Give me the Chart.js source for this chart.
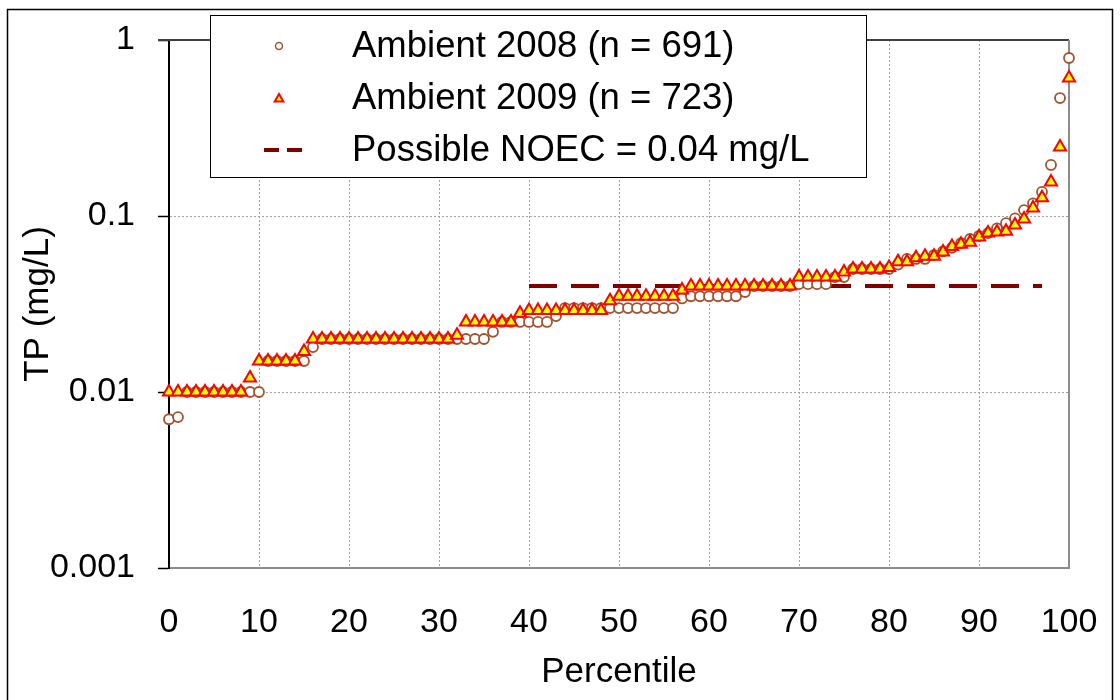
<!DOCTYPE html>
<html>
<head>
<meta charset="utf-8">
<script src="https://cdn.jsdelivr.net/npm/chart.js@4.4.1/dist/chart.umd.min.js"></script>
<style>
  body { margin: 0; background: #fff; }
  #wrap { width: 1120px; height: 700px; }
</style>
</head>
<body>
<div id="wrap"><canvas id="tpChart" width="1120" height="700"></canvas></div>
<script>
// percentile grid (x) and TP values (mg/L)
var percentiles = Array.from({ length: 101 }, function (_, i) { return i; });

var ambient2008 = [
  0.007, 0.0072, 0.01, 0.01, 0.01, 0.01, 0.01, 0.01, 0.01, 0.01,
  0.01, 0.015, 0.015, 0.015, 0.015, 0.015, 0.018, 0.02, 0.02, 0.02,
  0.02, 0.02, 0.02, 0.02, 0.02, 0.02, 0.02, 0.02, 0.02, 0.02,
  0.02, 0.02, 0.02, 0.02, 0.02, 0.02, 0.022, 0.025, 0.025, 0.025,
  0.025, 0.025, 0.025, 0.027, 0.03, 0.03, 0.03, 0.03, 0.03, 0.03,
  0.03, 0.03, 0.03, 0.03, 0.03, 0.03, 0.03, 0.034, 0.035, 0.035,
  0.035, 0.035, 0.035, 0.035, 0.037, 0.04, 0.04, 0.04, 0.04, 0.04,
  0.041, 0.041, 0.041, 0.041, 0.045, 0.045, 0.05, 0.05, 0.05, 0.05,
  0.05, 0.053, 0.057, 0.057, 0.057, 0.06, 0.063, 0.066, 0.07, 0.074,
  0.077, 0.08, 0.085, 0.091, 0.097, 0.108, 0.118, 0.137, 0.195, 0.468,
  0.79
];

var ambient2009 = [
  0.01, 0.01, 0.01, 0.01, 0.01, 0.01, 0.01, 0.01, 0.01, 0.012,
  0.015, 0.015, 0.015, 0.015, 0.015, 0.017, 0.02, 0.02, 0.02, 0.02,
  0.02, 0.02, 0.02, 0.02, 0.02, 0.02, 0.02, 0.02, 0.02, 0.02,
  0.02, 0.02, 0.021, 0.025, 0.025, 0.025, 0.025, 0.025, 0.025, 0.028,
  0.029, 0.029, 0.029, 0.029, 0.029, 0.029, 0.029, 0.029, 0.029, 0.033,
  0.035, 0.035, 0.035, 0.035, 0.035, 0.035, 0.035, 0.038, 0.04, 0.04,
  0.04, 0.04, 0.04, 0.04, 0.04, 0.04, 0.04, 0.04, 0.04, 0.04,
  0.045, 0.045, 0.045, 0.045, 0.045, 0.048, 0.05, 0.05, 0.05, 0.05,
  0.051, 0.055, 0.055, 0.058, 0.059, 0.059, 0.0625, 0.067, 0.069, 0.071,
  0.076, 0.08, 0.081, 0.082, 0.089, 0.096, 0.111, 0.127, 0.156, 0.247,
  0.608
];

var noecRange = [40, 97];
var noecValue = 0.04;

var xTicks = [0, 10, 20, 30, 40, 50, 60, 70, 80, 90, 100];
var yTicks = [0.001, 0.01, 0.1, 1];

var legendLabels = ['Ambient 2008 (n = 691)', 'Ambient 2009 (n = 723)', 'Possible NOEC = 0.04 mg/L'];

var FONT = '"Liberation Sans", Arial, sans-serif';
Chart.defaults.font.family = FONT;
Chart.defaults.color = '#000';

function toPoints(vals) {
  return vals.map(function (v, i) { return { x: percentiles[i], y: v }; });
}

// outer frame, plot frame (top/right) and the boxed legend
var framePlugin = {
  id: 'frame',
  beforeDraw: function (chart) {
    var ctx = chart.ctx;
    ctx.save();
    ctx.fillStyle = '#fff';
    ctx.fillRect(0, 0, chart.width, chart.height);
    ctx.strokeStyle = '#000';
    ctx.lineWidth = 1.5;
    ctx.strokeRect(7.5, 9.5, 1105, 720);
    ctx.restore();
  },
  beforeDatasetsDraw: function (chart) {
    var a = chart.chartArea, ctx = chart.ctx;
    ctx.save();
    ctx.lineWidth = 2;
    ctx.strokeStyle = '#404040';
    ctx.beginPath();
    ctx.moveTo(a.left - 11, a.top);
    ctx.lineTo(a.right, a.top);
    ctx.stroke();
    ctx.strokeStyle = '#8c8c8c';
    ctx.beginPath();
    ctx.moveTo(a.right, a.top);
    ctx.lineTo(a.right, a.bottom);
    ctx.stroke();
    ctx.restore();
  },
  afterDraw: function (chart) {
    var ctx = chart.ctx;
    ctx.save();
    ctx.fillStyle = '#fff';
    ctx.fillRect(210, 15, 656, 162);
    ctx.strokeStyle = '#000';
    ctx.lineWidth = 1;
    ctx.strokeRect(210.5, 15.5, 656, 162);

    var rows = [46, 98, 150];
    var mx = 279;
    // circle
    ctx.fillStyle = '#fff';
    ctx.strokeStyle = '#a0522d';
    ctx.lineWidth = 1.5;
    ctx.beginPath();
    ctx.arc(mx, rows[0], 3.5, 0, Math.PI * 2);
    ctx.fill();
    ctx.stroke();
    // triangle
    ctx.fillStyle = '#ffff00';
    ctx.strokeStyle = '#ff0000';
    ctx.lineWidth = 2;
    Chart.helpers.drawPoint(ctx, { pointStyle: 'triangle', radius: 5, borderWidth: 2, rotation: 0 }, mx, rows[1] + 1);
    // dashed line
    ctx.strokeStyle = '#800000';
    ctx.lineWidth = 4;
    ctx.setLineDash([15, 8]);
    ctx.beginPath();
    ctx.moveTo(264, rows[2]);
    ctx.lineTo(304, rows[2]);
    ctx.stroke();
    ctx.setLineDash([]);

    ctx.fillStyle = '#000';
    ctx.font = '36.5px ' + FONT;
    ctx.textBaseline = 'middle';
    ctx.textAlign = 'left';
    legendLabels.forEach(function (t, i) { ctx.fillText(t, 352, rows[i] + 1); });
    ctx.restore();
  }
};

new Chart(document.getElementById('tpChart').getContext('2d'), {
  type: 'scatter',
  data: {
    datasets: [
      {
        label: legendLabels[1],
        data: toPoints(ambient2009),
        pointStyle: 'triangle',
        pointRadius: 7,
        backgroundColor: '#ffff00',
        borderColor: '#ff0000',
        borderWidth: 2,
        order: 1,
        clip: false
      },
      {
        label: legendLabels[0],
        data: toPoints(ambient2008),
        pointStyle: 'circle',
        pointRadius: 5,
        backgroundColor: '#ffffff',
        borderColor: '#a0522d',
        borderWidth: 1.8,
        order: 2,
        clip: false
      },
      {
        label: legendLabels[2],
        data: noecRange.map(function (x) { return { x: x, y: noecValue }; }),
        showLine: true,
        pointRadius: 0,
        borderColor: '#800000',
        borderWidth: 4,
        borderDash: [28, 14],
        order: 3,
        clip: false
      }
    ]
  },
  options: {
    responsive: false,
    animation: false,
    layout: { padding: { left: 10, top: 40, right: 51, bottom: 0 } },
    plugins: {
      legend: { display: false },
      tooltip: { enabled: false }
    },
    scales: {
      x: {
        type: 'linear',
        min: 0,
        max: 100,
        afterBuildTicks: function (scale) {
          scale.ticks = xTicks.map(function (v) { return { value: v }; });
        },
        afterFit: function (scale) {
          scale.height = 132;
          scale.paddingLeft = 0;
          scale.paddingRight = 0;
        },
        ticks: { font: { size: 34 }, padding: 34, maxRotation: 0, autoSkip: false },
        grid: {
          drawTicks: false,
          lineWidth: 1,
          color: function (c) {
            var v = c.tick && c.tick.value;
            return (v === 0 || v === 100) ? 'rgba(0,0,0,0)' : '#a0a0a0';
          }
        },
        border: { display: true, color: '#8c8c8c', width: 2, dash: [2, 2] },
        title: { display: true, text: 'Percentile', font: { size: 35 }, padding: { top: 0, bottom: 7 } }
      },
      y: {
        type: 'logarithmic',
        min: 0.001,
        max: 1,
        afterBuildTicks: function (scale) {
          scale.ticks = yTicks.map(function (v) { return { value: v }; });
        },
        afterFit: function (scale) {
          scale.width = 159;
          scale.paddingTop = 0;
          scale.paddingBottom = 0;
        },
        ticks: {
          font: { size: 34 },
          padding: 23,
          callback: function (v) { return String(v); }
        },
        grid: {
          drawTicks: true,
          tickLength: 11,
          tickColor: '#000',
          tickWidth: 1.5,
          lineWidth: 1,
          color: function (c) {
            var v = c.tick && c.tick.value;
            return (v === 1 || v === 0.001) ? 'rgba(0,0,0,0)' : '#a0a0a0';
          }
        },
        border: { display: true, color: '#000', width: 2, dash: [2, 2] },
        title: { display: true, text: 'TP (mg/L)', font: { size: 35 }, padding: { top: 7, bottom: 0 } }
      }
    }
  },
  plugins: [framePlugin]
});
</script>
</body>
</html>
